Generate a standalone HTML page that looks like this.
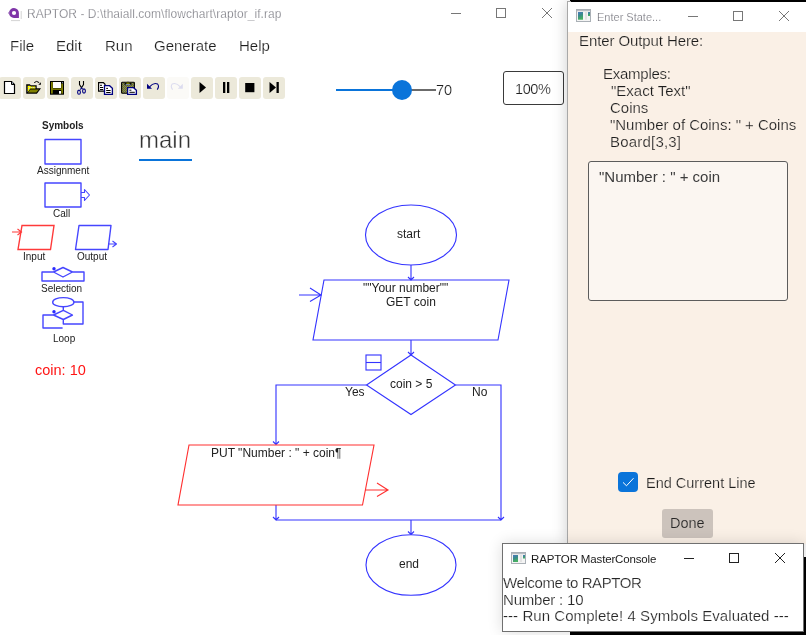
<!DOCTYPE html>
<html><head><meta charset="utf-8">
<style>
html,body{margin:0;padding:0;width:806px;height:635px;overflow:hidden;background:#fff;}
body{position:relative;font-family:"Liberation Sans",sans-serif;}
.t{position:absolute;white-space:pre;line-height:1;will-change:transform;}
.abs{position:absolute;}
.tb{position:absolute;top:77px;width:22px;height:22px;background:#ECE9DA;border-radius:3px;}
</style></head><body>

<!-- main window title -->
<svg class="abs" style="left:0;top:0" width="806" height="635" viewBox="0 0 806 635">
  <!-- app icon -->
  <rect x="7" y="6" width="14" height="14" rx="3" fill="#fff"/>
  <path d="M21.2 11 V19 M11 20.6 H20" stroke="#d4d4d4" stroke-width="1"/>
  <path d="M14 8 A5 5 0 1 0 14 18 H18.9 V13 A5 5 0 0 0 14 8 Z" fill="#7f35a8"/>
  <circle cx="14" cy="13" r="2.1" fill="#fff"/>
  <path d="M7.8 12.9 L9.6 11.4 L9.6 14.4 Z" fill="#9b6cbb"/>
  <!-- window controls main -->
  <line x1="451" y1="13.5" x2="461" y2="13.5" stroke="#777" stroke-width="1"/>
  <rect x="496.5" y="8.5" width="9" height="9" fill="none" stroke="#777" stroke-width="1"/>
  <path d="M542 8 L552 18 M552 8 L542 18" stroke="#777" stroke-width="1"/>
</svg>
<div class="t" style="left:26.5px;top:8px;font-size:12px;letter-spacing:0.04px;color:#74747c;-webkit-text-stroke:0.25px #fff;">RAPTOR - D:\thaiall.com\flowchart\raptor_if.rap</div>

<!-- menu -->
<div class="t" style="left:10px;top:38px;font-size:15px;color:#1c1c1c;-webkit-text-stroke:0.2px #fff;">File</div>
<div class="t" style="left:56px;top:38px;font-size:15px;color:#1c1c1c;-webkit-text-stroke:0.2px #fff;">Edit</div>
<div class="t" style="left:105px;top:38px;font-size:15px;color:#1c1c1c;-webkit-text-stroke:0.2px #fff;">Run</div>
<div class="t" style="left:154px;top:38px;font-size:15px;color:#1c1c1c;-webkit-text-stroke:0.2px #fff;">Generate</div>
<div class="t" style="left:239px;top:38px;font-size:15px;color:#1c1c1c;-webkit-text-stroke:0.2px #fff;">Help</div>

<!-- toolbar -->
<div class="tb" style="left:-1px"></div>
<div class="tb" style="left:23px"></div>
<div class="tb" style="left:47px"></div>
<div class="tb" style="left:71px"></div>
<div class="tb" style="left:95px"></div>
<div class="tb" style="left:119px"></div>
<div class="tb" style="left:143px"></div>
<div class="tb" style="left:167px;background:#FBFAF7"></div>
<div class="tb" style="left:191px"></div>
<div class="tb" style="left:215px"></div>
<div class="tb" style="left:239px"></div>
<div class="tb" style="left:263px"></div>


<!-- toolbar icons -->
<svg class="abs" style="left:0;top:70px" width="290" height="35" viewBox="0 70 290 35">
 <!-- new -->
 <path d="M4.5 81.5 H11.5 L14.5 84.5 V93.5 H4.5 Z" fill="#fff" stroke="#000" stroke-width="1.2"/>
 <path d="M11.5 81.5 V84.5 H14.5" fill="none" stroke="#000" stroke-width="1"/>
 <rect x="12" y="82.3" width="1.2" height="1.2" fill="#8fa0b8"/>
 <!-- open -->
 <path d="M26.2 93.8 V84.2 H29.9 L30.7 85.2 H36.7 V88.2 H41 L36.9 93.8 Z" fill="#000"/>
 <defs><pattern id="ylw" x="0" y="0" width="2" height="2" patternUnits="userSpaceOnUse"><rect width="2" height="2" fill="#ffff00"/><rect x="1" y="1" width="1" height="1" fill="#c8d0e8"/></pattern></defs>
 <path d="M27.6 85.8 H30 L30.8 86.6 H35.5 V88.4 H30.3 L27.6 92.2 Z" fill="url(#ylw)"/>
 <path d="M30.4 89.6 H39 L36.3 92.5 H27.8 Z" fill="#808000"/>
 <path d="M34.2 82.6 Q36.5 80.2 39.2 82.6" fill="none" stroke="#000" stroke-width="1"/>
 <path d="M38.3 84.8 L40.9 82.2 L40.9 84.8 Z" fill="#000"/>
 <!-- save -->
 <rect x="50" y="81" width="14" height="13.7" fill="#000"/>
 <rect x="51" y="82" width="1.8" height="11.6" fill="#808000"/>
 <rect x="61.3" y="83.6" width="1.7" height="10" fill="#808000"/>
 <rect x="51" y="88.4" width="12" height="1.5" fill="#808000"/>
 <rect x="53" y="82" width="8" height="6" fill="#fff"/>
 <rect x="59" y="91" width="2" height="2.7" fill="#fff"/>
 <rect x="62" y="82.2" width="1" height="1" fill="#8fa0b8"/>
 <!-- cut -->
 <path d="M79.5 81 V84.5 L81.5 87.8 L83.5 84.5 V81" fill="none" stroke="#000" stroke-width="1.1"/>
 <ellipse cx="79" cy="92.2" rx="1.4" ry="2.1" fill="none" stroke="#000080" stroke-width="1.1"/>
 <ellipse cx="84" cy="91" rx="1.4" ry="2.1" fill="none" stroke="#000080" stroke-width="1.1"/>
 <path d="M80.4 89.6 L81.5 87.8 L82.6 89" fill="none" stroke="#000080" stroke-width="1.1"/>
 <!-- copy -->
 <path d="M98.6 82.7 H103.4 L105 84.3 V91.1 H98.6 Z" fill="#fff" stroke="#000" stroke-width="1.2"/>
 <path d="M100 85.3 H102 M100 87.5 H103.2 M100 89.5 H103.2" stroke="#000" stroke-width="1"/>
 <path d="M104.5 85.7 H109.6 L112.4 88.4 V94.3 H104.5 Z" fill="#fff" stroke="#000080" stroke-width="1.3"/>
 <path d="M106.2 88.4 H108 M106.2 90.5 H110.6 M106.2 92.5 H110.6" stroke="#000" stroke-width="1"/>
 <!-- paste -->
 <defs><pattern id="chk" x="0" y="0" width="2" height="2" patternUnits="userSpaceOnUse"><rect width="2" height="2" fill="#6f7a8a"/><rect width="1" height="1" fill="#808000"/><rect x="1" y="1" width="1" height="1" fill="#808000"/></pattern></defs>
 <rect x="121.6" y="82.3" width="12.8" height="11" rx="0.8" fill="url(#chk)" stroke="#000" stroke-width="1.1"/>
 <path d="M124.6 83 H131.4 V85.2 H124.6 Z" fill="#000"/>
 <path d="M125.6 84.6 H130.4" stroke="#9cb0c8" stroke-width="0.9"/>
 <path d="M125.8 83.4 Q128 80.6 130.2 83.4" fill="#f0f000" stroke="#000" stroke-width="0.8"/>
 <path d="M127.6 87.7 H133.6 L136.4 90.4 V94.3 H127.6 Z" fill="#fff" stroke="#000080" stroke-width="1.3"/>
 <path d="M129.4 90.2 H131.4 M129.4 92.3 H134.8" stroke="#000" stroke-width="1"/>
 <!-- undo -->
 <path d="M147 83.8 V88.8 H152 Z" fill="#000080"/>
 <path d="M149.5 86.8 Q153.5 82.2 157.6 84 Q159.6 86.5 157.2 89.6" fill="none" stroke="#000080" stroke-width="1.1"/>
 <!-- redo disabled -->
 <path d="M182.8 83.8 V88.8 H177.8 Z" fill="#dcdcef"/>
 <path d="M180.3 86.8 Q176.3 82.2 172.2 84 Q170.2 86.5 172.6 89.6" fill="none" stroke="#dcdcef" stroke-width="1.1"/>
 <!-- play -->
 <path d="M199.5 82 L206 87.5 L199.5 93 Z" fill="#000"/>
 <!-- pause -->
 <rect x="223" y="82" width="2.3" height="11" fill="#000"/>
 <rect x="227" y="82" width="2.3" height="11" fill="#000"/>
 <!-- stop -->
 <rect x="245.2" y="83" width="9.2" height="9.2" fill="#000"/>
 <!-- step -->
 <path d="M269.5 82 L276 87.5 L269.5 93 Z" fill="#000"/>
 <rect x="276.5" y="82" width="2.3" height="11" fill="#000"/>
</svg>

<!-- slider -->
<div class="abs" style="left:336px;top:89px;width:66px;height:2px;background:#0A74DA"></div>
<div class="abs" style="left:402px;top:89px;width:34px;height:2px;background:#6b6b6b"></div>
<div class="abs" style="left:392px;top:80px;width:20px;height:20px;border-radius:50%;background:#0A74DA"></div>
<div class="t" style="left:436px;top:83px;font-size:14.5px;color:#1c1c1c;-webkit-text-stroke:0.2px #fff;">70</div>

<!-- zoom box -->
<div class="abs" style="left:503px;top:71px;width:59px;height:32px;border:1px solid #3a3a3a;border-radius:3px;"></div>
<div class="t" style="left:514.5px;top:82px;font-size:14.5px;letter-spacing:-0.4px;color:#1f1f1f;-webkit-text-stroke:0.2px #fff;">100%</div>

<!-- symbols panel -->
<div class="t" style="left:41.5px;top:121px;font-size:10px;font-weight:bold;color:#222;">Symbols</div>
<div class="t" style="left:37px;top:166px;font-size:10px;color:#222;">Assignment</div>
<div class="t" style="left:53px;top:209px;font-size:10px;color:#222;">Call</div>
<div class="t" style="left:23px;top:252px;font-size:10px;color:#222;">Input</div>
<div class="t" style="left:77px;top:252px;font-size:10px;color:#222;">Output</div>
<div class="t" style="left:41px;top:284px;font-size:10px;color:#222;">Selection</div>
<div class="t" style="left:53px;top:334px;font-size:10px;color:#222;">Loop</div>
<div class="t" style="left:35px;top:363px;font-size:14.5px;color:#ff1414;">coin: 10</div>

<!-- main tab -->
<div class="t" style="left:139px;top:128px;font-size:24px;color:#333;-webkit-text-stroke:0.4px #fff;">main</div>
<div class="abs" style="left:139px;top:159px;width:53px;height:2px;background:#0A74DA"></div>

<!-- flowchart text -->
<div class="t" style="left:397px;top:228px;font-size:12px;color:#222;">start</div>
<div class="t" style="left:363px;top:282px;font-size:12px;color:#222;">""Your number""</div>
<div class="t" style="left:386px;top:296px;font-size:12px;color:#222;">GET coin</div>
<div class="t" style="left:390px;top:378px;font-size:12px;color:#222;">coin &gt; 5</div>
<div class="t" style="left:345px;top:386px;font-size:12px;color:#222;">Yes</div>
<div class="t" style="left:472px;top:386px;font-size:12px;color:#222;">No</div>
<div class="t" style="left:211px;top:447px;font-size:12px;color:#222;">PUT "Number : " + coin¶</div>
<div class="t" style="left:399px;top:558px;font-size:12px;color:#222;">end</div>

<svg class="abs" style="left:0;top:0" width="806" height="635" viewBox="0 0 806 635" fill="none">
 <g stroke="#4646ff" stroke-width="1.4" stroke-linejoin="round">
  <!-- symbols -->
  <rect x="45" y="139.5" width="36" height="24.5"/>
  <rect x="45" y="183" width="36" height="24"/>
  <path d="M81 192.5 H84.5 V189.5 L89.5 195 L84.5 200.5 V197.5 H81" stroke-width="1.1"/>
  <path d="M79 225.5 H111 L108 249.5 H75.5 Z"/>
  <path d="M108 244 H116.5 M112.5 241 L116.5 244 L112.5 247" stroke-width="1.1"/>
  <path d="M53.5 272 L63 267.5 L72.5 272 L63 277 Z M53.5 272 H42 V281 H84 V272 H72.5"/>
  <ellipse cx="63.3" cy="302.2" rx="10.6" ry="4.6"/>
  <path d="M74 302 H83 V324 H63.3 V319.5 M63.3 307 V310.3 M63.3 310.3 L72.5 315 L63.3 319.5 L53.5 315 Z M53.5 315 H43 V328 H62.6"/>
 </g>
 <g stroke="#ff3a3a" stroke-width="1.4">
  <path d="M22 225.5 H54 L50.5 249.5 H18 Z"/>
  <path d="M12 232 H21.5 M17.5 229 L21.5 232 L17.5 235" stroke-width="1.1"/>
 </g>
 <g fill="#2a2aff">
  <circle cx="54" cy="268.8" r="1.7"/>
  <circle cx="54" cy="311.8" r="1.7"/>
 </g>
 <!-- flowchart -->
 <g stroke="#3434ff" stroke-width="1.12">
  <ellipse cx="411" cy="235" rx="45.5" ry="30"/>
  <path d="M411 265 V280 M408 277 L411 280 L414 277"/>
  <path d="M324 280 H509 L498 340 H313 Z"/>
  <path d="M299 295 H321 M310 288 L321 295 L310 301.6"/>
  <path d="M411 340 V355 M408 352 L411 355 L414 352"/>
  <path d="M411 355 L455.5 385 L411 414.5 L366.5 385 Z"/>
  <rect x="366" y="355" width="15" height="15"/>
  <path d="M366 362.5 H381"/>
  <path d="M366.5 385 H276 V444.5 M273 441.5 L276 444.5 L279 441.5"/>
  <path d="M455.5 385 H501 V520 M498 517 L501 520 L504 517"/>
  <path d="M276 505 V520 M273 517 L276 520 L279 517"/>
  <path d="M276 520 H501"/>
  <path d="M411 520 V534.5 M408 531.5 L411 534.5 L414 531.5"/>
  <ellipse cx="411" cy="565" rx="45" ry="30.3"/>
 </g>
 <g stroke="#ff3030" stroke-width="1.12">
  <path d="M189 445 H374 L362.5 505 H178 Z"/>
  <path d="M365 490 H388 M377 483 L388 490 L377 496.6"/>
 </g>
</svg>

<!-- Enter Statement dialog -->
<div class="abs" style="left:567px;top:2px;width:239px;height:542px;box-shadow:0 0 14px rgba(0,0,0,0.2);"></div>
<div class="abs" style="left:570px;top:0;width:236px;height:2px;background:#000"></div>
<div class="abs" style="left:567px;top:1px;width:1px;height:543px;background:#a8a8a8"></div><div class="abs" style="left:567px;top:1px;width:4px;height:1px;background:#a8a8a8"></div>
<div class="abs" style="left:568px;top:2px;width:238px;height:30px;background:#fff"></div>
<div class="abs" style="left:568px;top:32px;width:238px;height:512px;background:#FAF0E6"></div>
<svg class="abs" style="left:568px;top:2px" width="238" height="30" viewBox="568 2 238 30">
  <defs><linearGradient id="ig" x1="0" y1="0" x2="0.3" y2="1"><stop offset="0" stop-color="#4a78c0"/><stop offset="0.5" stop-color="#3a8a8a"/><stop offset="1" stop-color="#46b060"/></linearGradient></defs>
  <rect x="576.5" y="9.5" width="14" height="12" fill="#f4f4f4" stroke="#aab0b6" stroke-width="1"/>
  <rect x="577" y="10" width="13" height="1.2" fill="#b8bcc2"/>
  <rect x="578" y="12" width="5" height="7.7" fill="url(#ig)"/>
  <rect x="585" y="12" width="2" height="7.7" fill="#e2e2e2"/>
  <rect x="588" y="12" width="2" height="4" fill="url(#ig)"/>
  <line x1="688" y1="16.5" x2="698" y2="16.5" stroke="#777" stroke-width="1"/>
  <rect x="733.5" y="11.5" width="9" height="9" fill="none" stroke="#777" stroke-width="1"/>
  <path d="M779 11 L789 21 M789 11 L779 21" stroke="#777" stroke-width="1"/>
</svg>
<div class="t" style="left:597px;top:12px;font-size:11px;color:#74747c;-webkit-text-stroke:0.2px #fff;">Enter State...</div>
<div class="t" style="left:579px;top:33px;font-size:15px;letter-spacing:-0.1px;color:#1c1c1c;-webkit-text-stroke:0.2px #FAF0E6;">Enter Output Here:</div>
<div class="t" style="left:603px;top:66px;font-size:15px;letter-spacing:-0.25px;color:#1c1c1c;-webkit-text-stroke:0.2px #FAF0E6;">Examples:</div>
<div class="t" style="left:610.5px;top:83px;font-size:15px;color:#1c1c1c;-webkit-text-stroke:0.2px #FAF0E6;">"Exact Text"</div>
<div class="t" style="left:610px;top:100px;font-size:15px;color:#1c1c1c;-webkit-text-stroke:0.2px #FAF0E6;">Coins</div>
<div class="t" style="left:610px;top:117px;font-size:15px;letter-spacing:-0.03px;color:#1c1c1c;-webkit-text-stroke:0.2px #FAF0E6;">"Number of Coins: " + Coins</div>
<div class="t" style="left:610px;top:134px;font-size:15px;letter-spacing:0.2px;color:#1c1c1c;-webkit-text-stroke:0.2px #FAF0E6;">Board[3,3]</div>
<div class="abs" style="left:588px;top:161px;width:198px;height:138px;border:1px solid #5c5c5c;border-radius:3px;background:#FBF6F1"></div>
<div class="t" style="left:599px;top:169px;font-size:15px;color:#3c3c3c;">"Number : " + coin</div>
<div class="abs" style="left:618px;top:472px;width:20px;height:20px;border-radius:4px;background:#0A74DA"></div>
<svg class="abs" style="left:618px;top:472px" width="20" height="20"><path d="M5 10.4 L8.5 13.8 L15.5 6.2" stroke="#fff" stroke-width="1" fill="none"/></svg>
<div class="t" style="left:646px;top:476px;font-size:14.5px;color:#1c1c1c;-webkit-text-stroke:0.2px #FAF0E6;">End Current Line</div>
<div class="abs" style="left:662px;top:508.5px;width:51px;height:29px;border-radius:3px;background:#CCC3BC"></div>
<div class="t" style="left:670px;top:516px;font-size:14.5px;color:#262626;-webkit-text-stroke:0.2px #CCC3BC;">Done</div>

<!-- console -->
<div class="abs" style="left:502px;top:543px;width:302px;height:89px;box-shadow:0 0 14px rgba(0,0,0,0.14);"></div>
<div class="abs" style="left:803px;top:557px;width:3px;height:78px;background:#000"></div>
<div class="abs" style="left:570px;top:631px;width:236px;height:4px;background:#000"></div>
<div class="abs" style="left:502px;top:543px;width:300px;height:87px;border:1px solid #707070;background:#fff"></div>
<svg class="abs" style="left:502px;top:543px" width="304" height="30" viewBox="502 543 304 30">
  <defs><linearGradient id="ig2" x1="0" y1="0" x2="0.3" y2="1"><stop offset="0" stop-color="#4a78c0"/><stop offset="0.5" stop-color="#3a8a8a"/><stop offset="1" stop-color="#46b060"/></linearGradient></defs>
  <rect x="511.5" y="552.5" width="14" height="11" fill="#f4f4f4" stroke="#aab0b6" stroke-width="1"/>
  <rect x="512" y="553" width="13" height="1.2" fill="#b8bcc2"/>
  <rect x="513" y="555" width="5" height="7" fill="url(#ig2)"/>
  <rect x="520" y="555" width="2" height="7" fill="#e2e2e2"/>
  <rect x="523" y="555" width="2" height="3.5" fill="url(#ig2)"/>
  <line x1="684" y1="558.5" x2="694" y2="558.5" stroke="#222" stroke-width="1"/>
  <rect x="729.5" y="553.5" width="9" height="9" fill="none" stroke="#222" stroke-width="1"/>
  <path d="M775 553 L785 563 M785 553 L775 563" stroke="#222" stroke-width="1"/>
</svg>
<div class="t" style="left:531px;top:554px;font-size:11.5px;letter-spacing:-0.15px;color:#1a1a1a;">RAPTOR MasterConsole</div>
<div class="t" style="left:503px;top:575px;font-size:15px;letter-spacing:-0.4px;color:#262626;-webkit-text-stroke:0.2px #fff;">Welcome to RAPTOR</div>
<div class="t" style="left:503px;top:592px;font-size:15px;letter-spacing:-0.2px;color:#262626;-webkit-text-stroke:0.2px #fff;">Number : 10</div>
<div class="t" style="left:503px;top:608px;font-size:15px;letter-spacing:0.06px;color:#262626;-webkit-text-stroke:0.2px #fff;">--- Run Complete! 4 Symbols Evaluated ---</div>

</body></html>
